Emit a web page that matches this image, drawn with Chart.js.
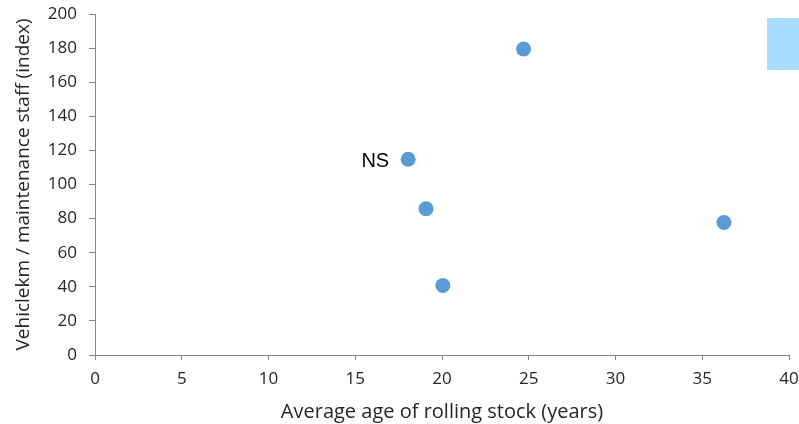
<!DOCTYPE html>
<html>
<head>
<meta charset="utf-8">
<script src="https://cdn.jsdelivr.net/npm/chart.js@4/dist/chart.umd.min.js"></script>
<style>
html,body{margin:0;padding:0;background:#fff;}
#wrap{position:relative;width:799px;height:424px;}
#box{position:absolute;left:767px;top:18px;width:32px;height:52px;background:#a9dcfe;}
</style>
</head>
<body>
<div id="wrap"><canvas id="c" width="799" height="424"></canvas><div id="box"></div></div>
<script>
const ages = [24.7, 18.05, 19.08, 20.05, 36.25];
const vehkmPerStaff = [179.5, 114.8, 85.8, 40.8, 77.7];
const pointLabels = ["", "NS", "", "", ""];
const xTicks = [0, 5, 10, 15, 20, 25, 30, 35, 40];
const yTicks = [0, 20, 40, 60, 80, 100, 120, 140, 160, 180, 200];

const FONT = '"Open Sans", Lato, sans-serif';

const labelPlugin = {
  id: 'pointLabels',
  afterDatasetsDraw(chart) {
    const ctx = chart.ctx;
    const meta = chart.getDatasetMeta(0);
    ctx.save();
    ctx.font = '20px "Liberation Sans", Arial, sans-serif';
    ctx.fillStyle = '#000';
    ctx.textAlign = 'right';
    ctx.textBaseline = 'middle';
    meta.data.forEach((el, i) => {
      if (pointLabels[i]) ctx.fillText(pointLabels[i], el.x - 19, el.y + 2);
    });
    ctx.restore();
  }
};

new Chart(document.getElementById('c'), {
  type: 'scatter',
  data: {
    datasets: [{
      data: ages.map((a, i) => ({x: a, y: vehkmPerStaff[i]})),
      backgroundColor: '#5b9bd5',
      borderColor: '#5b9bd5',
      borderWidth: 0,
      pointRadius: 7.5,
      pointHoverRadius: 7.5
    }]
  },
  options: {
    responsive: false,
    animation: false,
    layout: {padding: {left: 0, right: 10, top: 14, bottom: 0}},
    plugins: {legend: {display: false}, tooltip: {enabled: false}},
    scales: {
      x: {
        type: 'linear', min: 0, max: 40,
        afterBuildTicks: s => { s.ticks = xTicks.map(v => ({value: v})); },
        afterFit: s => { s.height = 69; s.paddingRight = 0; s.paddingLeft = 0; },
        grid: {drawOnChartArea: false, drawTicks: true, tickLength: 5, color: '#868686'},
        border: {color: '#868686', width: 1},
        ticks: {color: '#262626', font: {family: FONT, size: 17}, padding: 9},
        title: {display: true, text: 'Average age of rolling stock (years)', color: '#262626',
                font: {family: FONT, size: 20}, padding: {top: 1, bottom: 0}}
      },
      y: {
        type: 'linear', min: 0, max: 200,
        afterBuildTicks: s => { s.ticks = yTicks.map(v => ({value: v})); },
        afterFit: s => { s.width = 95; s.paddingTop = 0; s.paddingBottom = 0; },
        grid: {drawOnChartArea: false, drawTicks: true, tickLength: 6, color: '#868686'},
        border: {color: '#868686', width: 1},
        ticks: {color: '#262626', font: {family: FONT, size: 17}, padding: 12},
        title: {display: true, text: 'Vehiclekm / maintenance staff (index)', color: '#262626',
                font: {family: FONT, size: 19}, padding: {top: 12, bottom: 0}}
      }
    }
  },
  plugins: [labelPlugin]
});
</script>
</body>
</html>
